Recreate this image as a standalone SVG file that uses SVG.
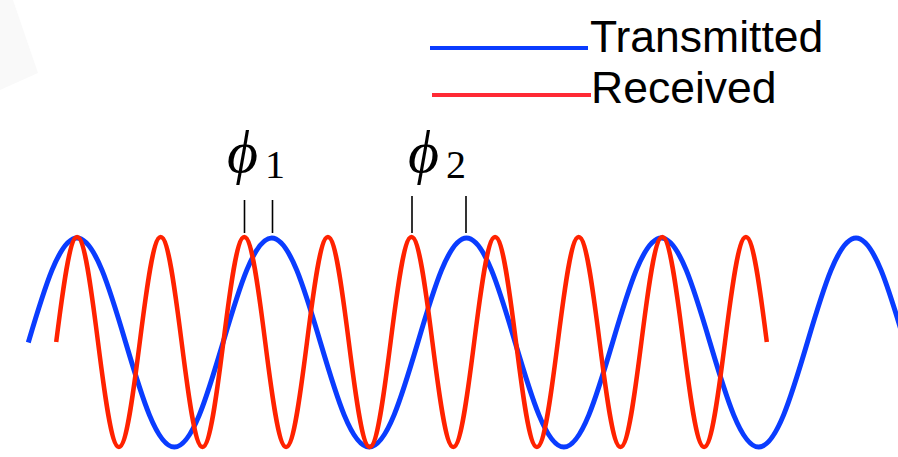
<svg xmlns="http://www.w3.org/2000/svg" width="898" height="457" viewBox="0 0 898 457">
<style>
.tx{stroke:#0a3cff;stroke-width:5;fill:none;stroke-linejoin:round}
.rx{stroke:#ff2200;stroke-width:4.5;fill:none;stroke-linejoin:round}
.tick{stroke:#000;stroke-width:1.6}
.lbl{font-family:"Liberation Sans",Arial,sans-serif;font-size:44.5px;fill:#000}
.phi{font-family:"Liberation Serif",serif;font-style:italic;font-size:60px;fill:#000}
.sub{font-family:"Liberation Serif","DejaVu Serif",serif;font-size:40px;fill:#000}
</style>
<rect width="898" height="457" fill="#fff"/>
<polygon points="0,0 13,0 38,73 0,90" fill="#f9f9f9"/>
<g id="legend">
<line x1="430" y1="48" x2="588" y2="48" stroke="#0a3cff" stroke-width="4"/>
<text class="lbl" x="590" y="52">Transmitted</text>
<line x1="432" y1="95" x2="591" y2="95" stroke="#ff2a35" stroke-width="4"/>
<text class="lbl" x="591" y="103">Received</text>
</g>
<g id="waves">
<path id="transmitted" class="tx" d="M28.3,342.5 c15.878,-53.54 31.07,-104.5 48.69,-104.5
s32.81,50.96 48.69,104.5 s31.07,104.5 48.69,104.5 s32.81,-50.96 48.69,-104.5 s31.07,-104.5 48.69,-104.5
s32.81,50.96 48.69,104.5 s31.07,104.5 48.69,104.5 s32.81,-50.96 48.69,-104.5 s31.07,-104.5 48.69,-104.5
s32.81,50.96 48.69,104.5 s31.07,104.5 48.69,104.5 s32.81,-50.96 48.69,-104.5 s31.07,-104.5 48.69,-104.5
s32.81,50.96 48.69,104.5 s31.07,104.5 48.69,104.5 s32.81,-50.96 48.69,-104.5 s31.07,-104.5 48.69,-104.5
s32.81,50.96 48.69,104.5"/>
<path id="received" class="rx" d="M56.2,342 c6.815,-53.79 13.336,-105 20.9,-105
s14.085,51.21 20.9,105 s13.336,105 20.9,105 s14.085,-51.21 20.9,-105 s13.336,-105 20.9,-105
s14.085,51.21 20.9,105 s13.336,105 20.9,105 s14.085,-51.21 20.9,-105 s13.336,-105 20.9,-105
s14.085,51.21 20.9,105 s13.336,105 20.9,105 s14.085,-51.21 20.9,-105 s13.336,-105 20.9,-105
s14.085,51.21 20.9,105 s13.336,105 20.9,105 s14.085,-51.21 20.9,-105 s13.336,-105 20.9,-105
s14.085,51.21 20.9,105 s13.336,105 20.9,105 s14.085,-51.21 20.9,-105 s13.336,-105 20.9,-105
s14.085,51.21 20.9,105 s13.336,105 20.9,105 s14.085,-51.21 20.9,-105 s13.336,-105 20.9,-105
s14.085,51.21 20.9,105 s13.336,105 20.9,105 s14.085,-51.21 20.9,-105 s13.336,-105 20.9,-105
s14.085,51.21 20.9,105 s13.336,105 20.9,105 s14.085,-51.21 20.9,-105 s13.336,-105 20.9,-105
s14.085,51.21 20.9,105"/>
</g>
<g id="ticks">
<line class="tick" x1="244.5" y1="200" x2="244.5" y2="233"/>
<line class="tick" x1="272.5" y1="200" x2="272.5" y2="233"/>
<line class="tick" x1="412" y1="196" x2="412" y2="233"/>
<line class="tick" x1="466" y1="196" x2="466" y2="233"/>
</g>
<g id="phi1"><text class="phi" x="227" y="172">ϕ</text><text class="sub" x="265" y="178">1</text></g>
<g id="phi2"><text class="phi" x="408" y="172">ϕ</text><text class="sub" x="446" y="178">2</text></g>
</svg>
